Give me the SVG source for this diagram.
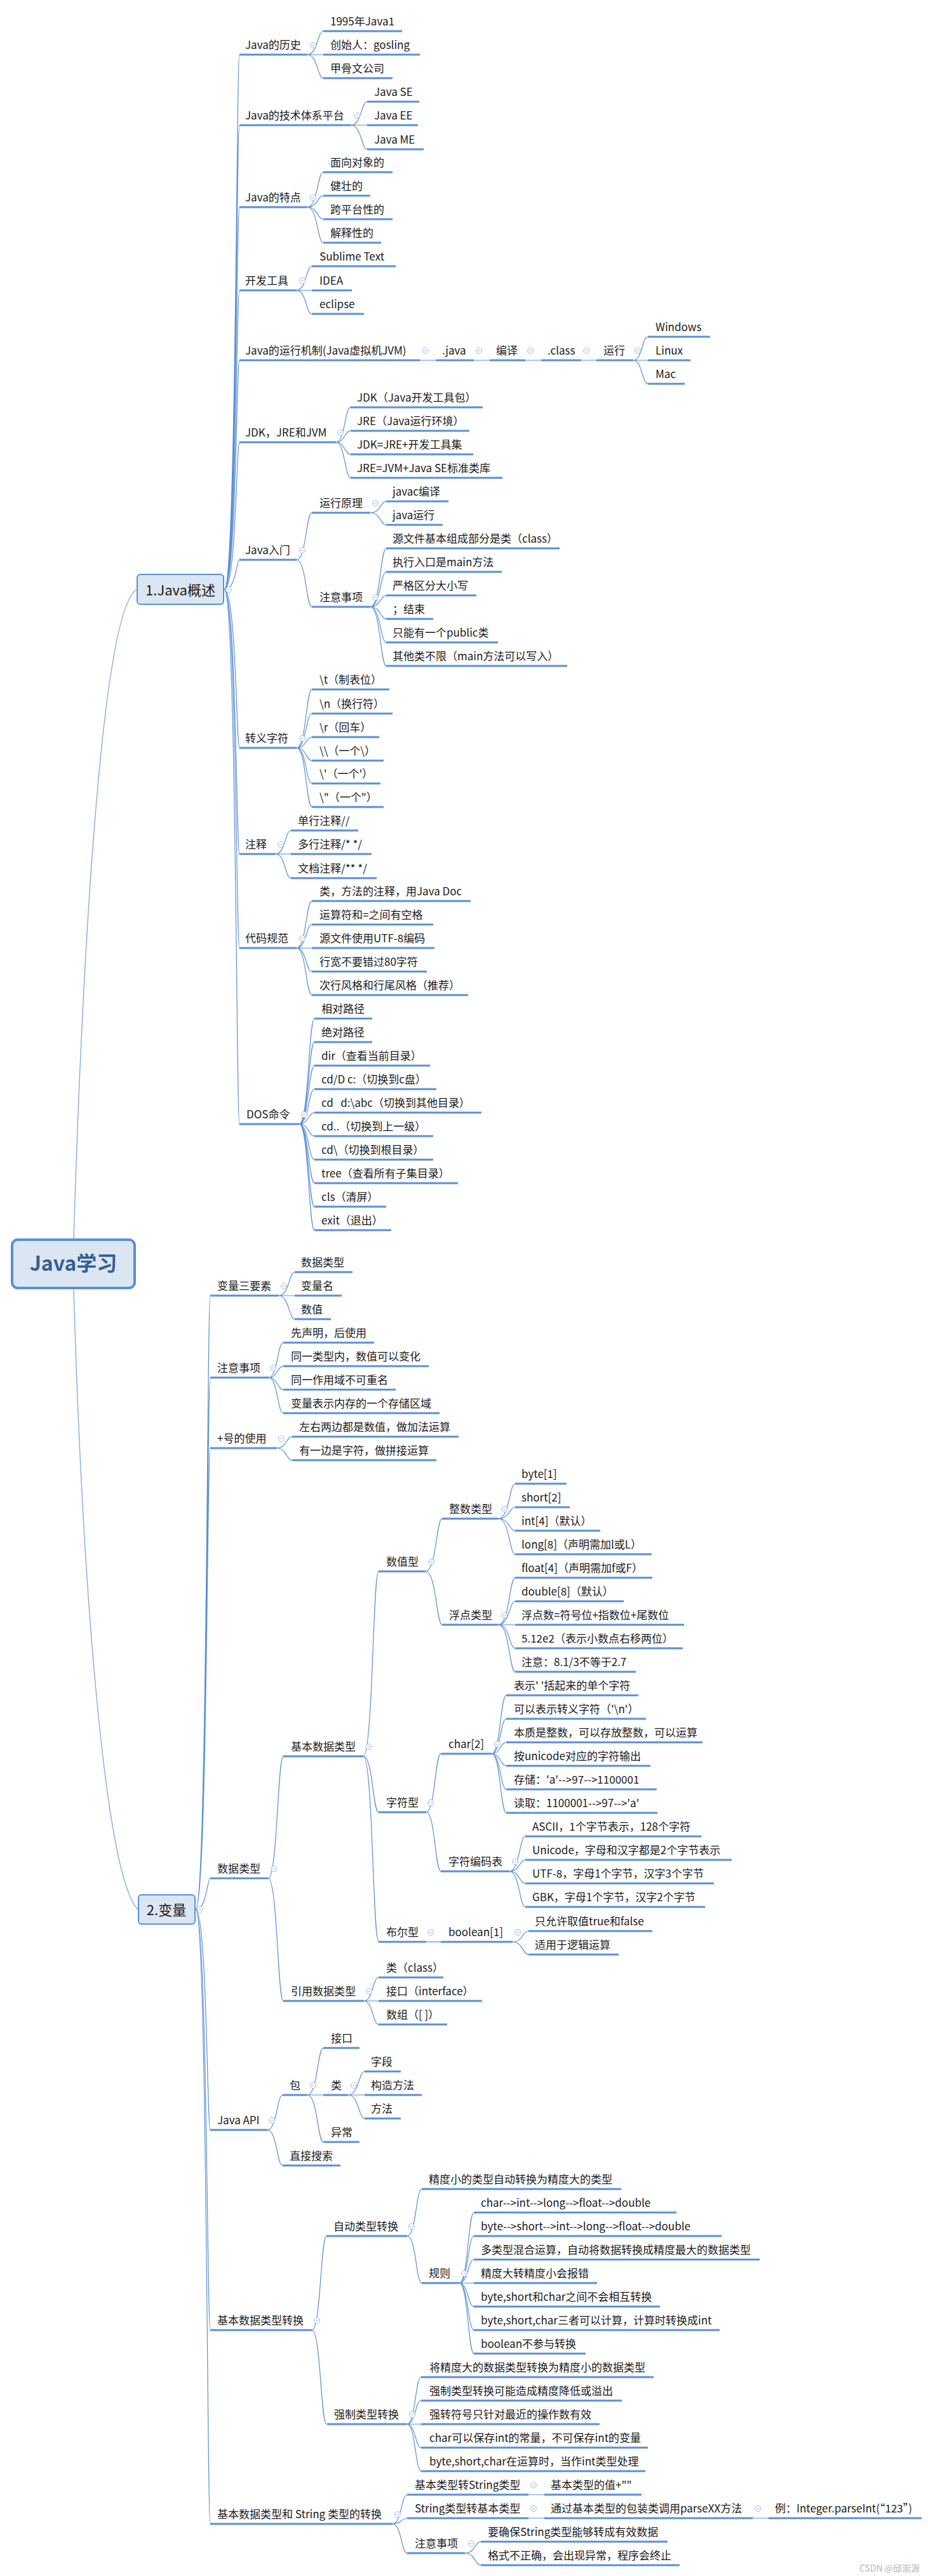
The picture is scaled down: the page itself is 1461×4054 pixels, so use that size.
<svg xmlns="http://www.w3.org/2000/svg" xmlns:xlink="http://www.w3.org/1999/xlink" width="1461" height="4054" viewBox="0 0 1461 4054">
<style>
text{font-family:"Noto Sans CJK SC","Noto Sans",sans-serif;font-size:17px;fill:#1a1a1a}
.u{stroke:#5b8fd6;stroke-width:3;fill:none}
.c{stroke:#5b8fd6;stroke-width:1.2;fill:none}
.r{stroke:#7ea6e0;stroke-width:1.3;fill:none}
.box{fill:#dce6f2;stroke:#5b8fd6}
.b1{font-size:22px}
.wm{font-size:14px;fill:#b4b4b4}
</style>
<defs>
<g id="col"><circle r="4.5" fill="#fff" stroke="#9bb9e6" stroke-width="1"/><path d="M-2.5 0H2.5" stroke="#9bb9e6" stroke-width="1"/></g>
</defs>
<rect width="1461" height="4054" fill="#fff"/>
<g id="connectors">
<path class="r" d="M116 1949C130 1500 160 960 215 928M116 2029C130 2500 165 2950 217 3005"/>
<path class="c" d="M353 928C372 928 372 86 377 86M353 928C372 928 372 197 377 197M353 928C372 928 372 326 377 326M353 928C372 928 372 457 377 457M353 928C372 928 372 567 377 567M353 928C372 928 372 696 377 696M353 928C372 928 372 881 377 881M353 928C372 928 372 1177 377 1177M353 928C372 928 372 1344 377 1344M353 928C372 928 372 1492 377 1492M353 928C372 928 372 1769 377 1769"/>
<path class="c" d="M484 86C500 86 500 49 509 49M484 86H509M484 86C500 86 500 123 509 123"/>
<path class="c" d="M553 197C569 197 569 160 578 160M553 197H578M553 197C569 197 569 235 578 235"/>
<path class="c" d="M484 326C500 326 500 271 509 271M484 326C500 326 500 308 509 308M484 326C500 326 500 345 509 345M484 326C500 326 500 382 509 382"/>
<path class="c" d="M467 457C482 457 482 419 491 419M467 457H491M467 457C482 457 482 494 491 494"/>
<path class="c" d="M661 567H686M746 567H771M827 567H852M915 567H939"/>
<path class="c" d="M997 567C1011 567 1011 530 1020 530M997 567H1020M997 567C1011 567 1011 604 1020 604"/>
<path class="c" d="M529 696C543 696 543 641 552 641M529 696C543 696 543 678 552 678M529 696C543 696 543 715 552 715M529 696C543 696 543 752 552 752"/>
<path class="c" d="M467 881C482 881 482 807 491 807M467 881C482 881 482 955 491 955"/>
<path class="c" d="M583 807C599 807 599 789 608 789M583 807C599 807 599 826 608 826"/>
<path class="c" d="M583 955C599 955 599 863 608 863M583 955C599 955 599 900 608 900M583 955C599 955 599 937 608 937M583 955C599 955 599 974 608 974M583 955C599 955 599 1011 608 1011M583 955C599 955 599 1048 608 1048"/>
<path class="c" d="M467 1177C482 1177 482 1085 491 1085M467 1177C482 1177 482 1123 491 1123M467 1177C482 1177 482 1160 491 1160M467 1177C482 1177 482 1197 491 1197M467 1177C482 1177 482 1233 491 1233M467 1177C482 1177 482 1270 491 1270"/>
<path class="c" d="M434 1344C449 1344 449 1307 458 1307M434 1344H458M434 1344C449 1344 449 1382 458 1382"/>
<path class="c" d="M467 1492C482 1492 482 1418 491 1418M467 1492C482 1492 482 1455 491 1455M467 1492H491M467 1492C482 1492 482 1529 491 1529M467 1492C482 1492 482 1566 491 1566"/>
<path class="c" d="M471 1769C486 1769 486 1603 495 1603M471 1769C486 1769 486 1640 495 1640M471 1769C486 1769 486 1677 495 1677M471 1769C486 1769 486 1714 495 1714M471 1769C486 1769 486 1751 495 1751M471 1769C486 1769 486 1788 495 1788M471 1769C486 1769 486 1825 495 1825M471 1769C486 1769 486 1862 495 1862M471 1769C486 1769 486 1899 495 1899M471 1769C486 1769 486 1936 495 1936"/>
<path class="c" d="M308 3005C326 3005 326 2039 331 2039M308 3005C326 3005 326 2168 331 2168M308 3005C326 3005 326 2279 331 2279M308 3005C326 3005 326 2956 331 2956M308 3005C326 3005 326 3352 331 3352M308 3005C326 3005 326 3667 331 3667M308 3005C326 3005 326 3972 331 3972"/>
<path class="c" d="M439 2039C455 2039 455 2002 464 2002M439 2039H464M439 2039C455 2039 455 2076 464 2076"/>
<path class="c" d="M423 2168C437 2168 437 2113 446 2113M423 2168C437 2168 437 2150 446 2150M423 2168C437 2168 437 2187 446 2187M423 2168C437 2168 437 2224 446 2224"/>
<path class="c" d="M436 2279C451 2279 451 2261 460 2261M436 2279C451 2279 451 2298 460 2298"/>
<path class="c" d="M422 2956C437 2956 437 2764 446 2764M422 2956C437 2956 437 3149 446 3149"/>
<path class="c" d="M572 2764C587 2764 587 2473 596 2473M572 2764C587 2764 587 2852 596 2852M572 2764C587 2764 587 3056 596 3056"/>
<path class="c" d="M670 2473C687 2473 687 2390 696 2390M670 2473C687 2473 687 2557 696 2557"/>
<path class="c" d="M785 2390C802 2390 802 2335 811 2335M785 2390C802 2390 802 2372 811 2372M785 2390C802 2390 802 2409 811 2409M785 2390C802 2390 802 2446 811 2446"/>
<path class="c" d="M785 2557C802 2557 802 2483 811 2483M785 2557C802 2557 802 2520 811 2520M785 2557H811M785 2557C802 2557 802 2594 811 2594M785 2557C802 2557 802 2631 811 2631"/>
<path class="c" d="M671 2852C685 2852 685 2760 694 2760M671 2852C685 2852 685 2945 694 2945"/>
<path class="c" d="M774 2760C788 2760 788 2668 797 2668M774 2760C788 2760 788 2705 797 2705M774 2760C788 2760 788 2742 797 2742M774 2760C788 2760 788 2779 797 2779M774 2760C788 2760 788 2816 797 2816M774 2760C788 2760 788 2853 797 2853"/>
<path class="c" d="M802 2945C818 2945 818 2890 827 2890M802 2945C818 2945 818 2927 827 2927M802 2945C818 2945 818 2964 827 2964M802 2945C818 2945 818 3001 827 3001"/>
<path class="c" d="M671 3056H694"/>
<path class="c" d="M807 3056C823 3056 823 3039 832 3039M807 3056C823 3056 823 3076 832 3076"/>
<path class="c" d="M573 3149C587 3149 587 3112 596 3112M573 3149H596M573 3149C587 3149 587 3186 596 3186"/>
<path class="c" d="M421 3352C436 3352 436 3297 445 3297M421 3352C436 3352 436 3408 445 3408"/>
<path class="c" d="M484 3297C500 3297 500 3223 509 3223M484 3297H509M484 3297C500 3297 500 3371 509 3371"/>
<path class="c" d="M548 3297C565 3297 565 3260 574 3260M548 3297H574M548 3297C565 3297 565 3334 574 3334"/>
<path class="c" d="M491 3667C505 3667 505 3519 514 3519M491 3667C505 3667 505 3815 514 3815"/>
<path class="c" d="M641 3519C655 3519 655 3445 664 3445M641 3519C655 3519 655 3593 664 3593"/>
<path class="c" d="M723 3593C737 3593 737 3482 746 3482M723 3593C737 3593 737 3519 746 3519M723 3593C737 3593 737 3556 746 3556M723 3593H746M723 3593C737 3593 737 3630 746 3630M723 3593C737 3593 737 3667 746 3667M723 3593C737 3593 737 3704 746 3704"/>
<path class="c" d="M641 3815C654 3815 654 3741 663 3741M641 3815C654 3815 654 3778 663 3778M641 3815H663M641 3815C654 3815 654 3852 663 3852M641 3815C654 3815 654 3889 663 3889"/>
<path class="c" d="M618 3972C632 3972 632 3926 641 3926M618 3972C632 3972 632 3963 641 3963M618 3972C632 3972 632 4018 641 4018"/>
<path class="c" d="M832 3926H857M832 3963H857M1185 3963H1210"/>
<path class="c" d="M732 4018C748 4018 748 4000 757 4000M732 4018C748 4018 748 4037 757 4037"/>
</g>
<g id="root"><rect class="box" x="19" y="1951" width="193" height="76" rx="9" stroke-width="4"/><text x="115.5" y="2000" text-anchor="middle" font-size="32" font-weight="bold" style="font-size:32px;fill:#345e96">Java学习</text></g>
<g id="b1"><rect class="box" x="216" y="904" width="136" height="47" rx="5" stroke-width="2"/><text class="b1" x="284" y="937" text-anchor="middle">1.Java概述</text><use xlink:href="#col" x="360" y="928"/></g>
<g id="b2"><rect class="box" x="218" y="2982" width="89" height="46" rx="5" stroke-width="2"/><text class="b1" x="262" y="3014" text-anchor="middle">2.变量</text><use xlink:href="#col" x="315" y="3005"/></g>

<g id="a1"><text x="386" y="77">Java的历史</text><path class="u" d="M377 86H484"/><use xlink:href="#col" x="493" y="71"/></g>
<g id="a1a"><text x="520" y="40">1995年Java1</text><path class="u" d="M509 49H633"/></g>
<g id="a1b"><text x="520" y="77">创始人：gosling</text><path class="u" d="M509 86H661"/></g>
<g id="a1c"><text x="520" y="114">甲骨文公司</text><path class="u" d="M509 123H618"/></g>
<g id="a2"><text x="386" y="188">Java的技术体系平台</text><path class="u" d="M377 197H553"/><use xlink:href="#col" x="562" y="182"/></g>
<g id="a2a"><text x="589" y="151">Java SE</text><path class="u" d="M578 160H660"/></g>
<g id="a2b"><text x="589" y="188">Java EE</text><path class="u" d="M578 197H658"/></g>
<g id="a2c"><text x="589" y="226">Java ME</text><path class="u" d="M578 235H667"/></g>
<g id="a3"><text x="386" y="317">Java的特点</text><path class="u" d="M377 326H484"/><use xlink:href="#col" x="493" y="311"/></g>
<g id="a3a"><text x="520" y="262">面向对象的</text><path class="u" d="M509 271H618"/></g>
<g id="a3b"><text x="520" y="299">健壮的</text><path class="u" d="M509 308H583"/></g>
<g id="a3c"><text x="520" y="336">跨平台性的</text><path class="u" d="M509 345H618"/></g>
<g id="a3d"><text x="520" y="373">解释性的</text><path class="u" d="M509 382H600"/></g>
<g id="a4"><text x="386" y="448">开发工具</text><path class="u" d="M377 457H467"/><use xlink:href="#col" x="476" y="442"/></g>
<g id="a4a"><text x="503" y="410">Sublime Text</text><path class="u" d="M491 419H623"/></g>
<g id="a4b"><text x="503" y="448">IDEA</text><path class="u" d="M491 457H554"/></g>
<g id="a4c"><text x="503" y="485">eclipse</text><path class="u" d="M491 494H573"/></g>
<g id="a5"><text x="386" y="558">Java的运行机制(Java虚拟机JVM)</text><path class="u" d="M377 567H661"/><use xlink:href="#col" x="670" y="552"/></g>
<g id="a5a"><text x="696" y="558">.java</text><path class="u" d="M686 567H746"/><use xlink:href="#col" x="754" y="552"/></g>
<g id="a5b"><text x="781" y="558">编译</text><path class="u" d="M771 567H827"/><use xlink:href="#col" x="835" y="552"/></g>
<g id="a5c"><text x="862" y="558">.class</text><path class="u" d="M852 567H915"/><use xlink:href="#col" x="923" y="552"/></g>
<g id="a5d"><text x="950" y="558">运行</text><path class="u" d="M939 567H997"/><use xlink:href="#col" x="1004" y="552"/></g>
<g id="a5e"><text x="1032" y="521">Windows</text><path class="u" d="M1020 530H1118"/></g>
<g id="a5f"><text x="1032" y="558">Linux</text><path class="u" d="M1020 567H1087"/></g>
<g id="a5g"><text x="1032" y="595">Mac</text><path class="u" d="M1020 604H1078"/></g>
<g id="a6"><text x="386" y="687">JDK，JRE和JVM</text><path class="u" d="M377 696H529"/><use xlink:href="#col" x="536" y="681"/></g>
<g id="a6a"><text x="562" y="632">JDK（Java开发工具包）</text><path class="u" d="M552 641H760"/></g>
<g id="a6b"><text x="562" y="669">JRE（Java运行环境）</text><path class="u" d="M552 678H739"/></g>
<g id="a6c"><text x="562" y="706">JDK=JRE+开发工具集</text><path class="u" d="M552 715H745"/></g>
<g id="a6d"><text x="562" y="743">JRE=JVM+Java SE标准类库</text><path class="u" d="M552 752H791"/></g>
<g id="a7"><text x="386" y="872">Java入门</text><path class="u" d="M377 881H467"/><use xlink:href="#col" x="476" y="866"/></g>
<g id="a7a"><text x="503" y="798">运行原理</text><path class="u" d="M491 807H583"/><use xlink:href="#col" x="591" y="792"/></g>
<g id="a7a1"><text x="618" y="780">javac编译</text><path class="u" d="M608 789H706"/></g>
<g id="a7a2"><text x="618" y="817">java运行</text><path class="u" d="M608 826H697"/></g>
<g id="a7b"><text x="503" y="946">注意事项</text><path class="u" d="M491 955H583"/><use xlink:href="#col" x="591" y="940"/></g>
<g id="a7b1"><text x="618" y="854">源文件基本组成部分是类（class）</text><path class="u" d="M608 863H881"/></g>
<g id="a7b2"><text x="618" y="891">执行入口是main方法</text><path class="u" d="M608 900H790"/></g>
<g id="a7b3"><text x="618" y="928">严格区分大小写</text><path class="u" d="M608 937H750"/></g>
<g id="a7b4"><text x="618" y="965">；结束</text><path class="u" d="M608 974H682"/></g>
<g id="a7b5"><text x="618" y="1002">只能有一个public类</text><path class="u" d="M608 1011H784"/></g>
<g id="a7b6"><text x="618" y="1039">其他类不限（main方法可以写入）</text><path class="u" d="M608 1048H893"/></g>
<g id="a8"><text x="386" y="1168">转义字符</text><path class="u" d="M377 1177H467"/><use xlink:href="#col" x="476" y="1162"/></g>
<g id="a8a"><text x="503" y="1076">\t（制表位）</text><path class="u" d="M491 1085H613"/></g>
<g id="a8b"><text x="503" y="1114">\n（换行符）</text><path class="u" d="M491 1123H618"/></g>
<g id="a8c"><text x="503" y="1151">\r（回车）</text><path class="u" d="M491 1160H597"/></g>
<g id="a8d"><text x="503" y="1188">\\（一个\）</text><path class="u" d="M491 1197H604"/></g>
<g id="a8e"><text x="503" y="1224">\'（一个'）</text><path class="u" d="M491 1233H599"/></g>
<g id="a8f"><text x="503" y="1261">\"（一个"）</text><path class="u" d="M491 1270H604"/></g>
<g id="a9"><text x="386" y="1335">注释</text><path class="u" d="M377 1344H434"/><use xlink:href="#col" x="442" y="1329"/></g>
<g id="a9a"><text x="469" y="1298">单行注释//</text><path class="u" d="M458 1307H564"/></g>
<g id="a9b"><text x="469" y="1335">多行注释/* */</text><path class="u" d="M458 1344H585"/></g>
<g id="a9c"><text x="469" y="1373">文档注释/** */</text><path class="u" d="M458 1382H593"/></g>
<g id="a10"><text x="386" y="1483">代码规范</text><path class="u" d="M377 1492H467"/><use xlink:href="#col" x="476" y="1477"/></g>
<g id="a10a"><text x="503" y="1409">类，方法的注释，用Java Doc</text><path class="u" d="M491 1418H741"/></g>
<g id="a10b"><text x="503" y="1446">运算符和=之间有空格</text><path class="u" d="M491 1455H682"/></g>
<g id="a10c"><text x="503" y="1483">源文件使用UTF-8编码</text><path class="u" d="M491 1492H684"/></g>
<g id="a10d"><text x="503" y="1520">行宽不要错过80字符</text><path class="u" d="M491 1529H672"/></g>
<g id="a10e"><text x="503" y="1557">次行风格和行尾风格（推荐）</text><path class="u" d="M491 1566H737"/></g>
<g id="a11"><text x="388" y="1760">DOS命令</text><path class="u" d="M377 1769H471"/><use xlink:href="#col" x="479" y="1754"/></g>
<g id="a11a"><text x="506" y="1594">相对路径</text><path class="u" d="M495 1603H586"/></g>
<g id="a11b"><text x="506" y="1631">绝对路径</text><path class="u" d="M495 1640H586"/></g>
<g id="a11c"><text x="506" y="1668">dir（查看当前目录）</text><path class="u" d="M495 1677H677"/></g>
<g id="a11d"><text x="506" y="1705">cd/D c:（切换到c盘）</text><path class="u" d="M495 1714H687"/></g>
<g id="a11e"><text x="506" y="1742">cd&#160;&#160;&#160;d:\abc（切换到其他目录）</text><path class="u" d="M495 1751H758"/></g>
<g id="a11f"><text x="506" y="1779">cd..（切换到上一级）</text><path class="u" d="M495 1788H682"/></g>
<g id="a11g"><text x="506" y="1816">cd\（切换到根目录）</text><path class="u" d="M495 1825H682"/></g>
<g id="a11h"><text x="506" y="1853">tree（查看所有子集目录）</text><path class="u" d="M495 1862H721"/></g>
<g id="a11i"><text x="506" y="1890">cls（清屏）</text><path class="u" d="M495 1899H608"/></g>
<g id="a11j"><text x="506" y="1927">exit（退出）</text><path class="u" d="M495 1936H616"/></g>

<g id="v1"><text x="342" y="2030">变量三要素</text><path class="u" d="M331 2039H439"/><use xlink:href="#col" x="447" y="2024"/></g>
<g id="v1a"><text x="474" y="1993">数据类型</text><path class="u" d="M464 2002H555"/></g>
<g id="v1b"><text x="474" y="2030">变量名</text><path class="u" d="M464 2039H538"/></g>
<g id="v1c"><text x="474" y="2067">数值</text><path class="u" d="M464 2076H521"/></g>
<g id="v2"><text x="342" y="2159">注意事项</text><path class="u" d="M331 2168H423"/><use xlink:href="#col" x="430" y="2153"/></g>
<g id="v2a"><text x="458" y="2104">先声明，后使用</text><path class="u" d="M446 2113H589"/></g>
<g id="v2b"><text x="458" y="2141">同一类型内，数值可以变化</text><path class="u" d="M446 2150H675"/></g>
<g id="v2c"><text x="458" y="2178">同一作用域不可重名</text><path class="u" d="M446 2187H623"/></g>
<g id="v2d"><text x="458" y="2215">变量表示内存的一个存储区域</text><path class="u" d="M446 2224H692"/></g>
<g id="v3"><text x="342" y="2270">+号的使用</text><path class="u" d="M331 2279H436"/><use xlink:href="#col" x="443" y="2264"/></g>
<g id="v3a"><text x="471" y="2252">左右两边都是数值，做加法运算</text><path class="u" d="M460 2261H722"/></g>
<g id="v3b"><text x="471" y="2289">有一边是字符，做拼接运算</text><path class="u" d="M460 2298H687"/></g>
<g id="v4"><text x="342" y="2947">数据类型</text><path class="u" d="M331 2956H422"/><use xlink:href="#col" x="431" y="2941"/></g>
<g id="v4a"><text x="458" y="2755">基本数据类型</text><path class="u" d="M446 2764H572"/><use xlink:href="#col" x="580" y="2749"/></g>
<g id="v4a1"><text x="608" y="2464">数值型</text><path class="u" d="M596 2473H670"/><use xlink:href="#col" x="679" y="2458"/></g>
<g id="v4a1a"><text x="707" y="2381">整数类型</text><path class="u" d="M696 2390H785"/><use xlink:href="#col" x="794" y="2375"/></g>
<g id="i1"><text x="821" y="2326">byte[1]</text><path class="u" d="M811 2335H892"/></g>
<g id="i2"><text x="821" y="2363">short[2]</text><path class="u" d="M811 2372H897"/></g>
<g id="i3"><text x="821" y="2400">int[4]（默认）</text><path class="u" d="M811 2409H945"/></g>
<g id="i4"><text x="821" y="2437">long[8]（声明需加l或L）</text><path class="u" d="M811 2446H1026"/></g>
<g id="v4a1b"><text x="707" y="2548">浮点类型</text><path class="u" d="M696 2557H785"/><use xlink:href="#col" x="794" y="2542"/></g>
<g id="f1"><text x="821" y="2474">float[4]（声明需加f或F）</text><path class="u" d="M811 2483H1027"/></g>
<g id="f2"><text x="821" y="2511">double[8]（默认）</text><path class="u" d="M811 2520H982"/></g>
<g id="f3"><text x="821" y="2548">浮点数=符号位+指数位+尾数位</text><path class="u" d="M811 2557H1077"/></g>
<g id="f4"><text x="821" y="2585">5.12e2（表示小数点右移两位）</text><path class="u" d="M811 2594H1075"/></g>
<g id="f5"><text x="821" y="2622">注意：8.1/3不等于2.7</text><path class="u" d="M811 2631H1001"/></g>
<g id="v4a2"><text x="608" y="2843">字符型</text><path class="u" d="M596 2852H671"/><use xlink:href="#col" x="678" y="2837"/></g>
<g id="v4a2a"><text x="706" y="2751">char[2]</text><path class="u" d="M694 2760H774"/><use xlink:href="#col" x="783" y="2745"/></g>
<g id="ch1"><text x="809" y="2659">表示' '括起来的单个字符</text><path class="u" d="M797 2668H1005"/></g>
<g id="ch2"><text x="809" y="2696">可以表示转义字符（'\n'）</text><path class="u" d="M797 2705H1017"/></g>
<g id="ch3"><text x="809" y="2733">本质是整数，可以存放整数，可以运算</text><path class="u" d="M797 2742H1106"/></g>
<g id="ch4"><text x="809" y="2770">按unicode对应的字符输出</text><path class="u" d="M797 2779H1024"/></g>
<g id="ch5"><text x="809" y="2807">存储：'a'--&gt;97--&gt;1100001</text><path class="u" d="M797 2816H1034"/></g>
<g id="ch6"><text x="809" y="2844">读取：1100001--&gt;97--&gt;'a'</text><path class="u" d="M797 2853H1035"/></g>
<g id="v4a2b"><text x="706" y="2936">字符编码表</text><path class="u" d="M694 2945H802"/><use xlink:href="#col" x="811" y="2930"/></g>
<g id="e1"><text x="838" y="2881">ASCII，1个字节表示，128个字符</text><path class="u" d="M827 2890H1104"/></g>
<g id="e2"><text x="838" y="2918">Unicode，字母和汉字都是2个字节表示</text><path class="u" d="M827 2927H1152"/></g>
<g id="e3"><text x="838" y="2955">UTF-8，字母1个字节，汉字3个字节</text><path class="u" d="M827 2964H1124"/></g>
<g id="e4"><text x="838" y="2992">GBK，字母1个字节，汉字2个字节</text><path class="u" d="M827 3001H1110"/></g>
<g id="v4a3"><text x="608" y="3047">布尔型</text><path class="u" d="M596 3056H671"/><use xlink:href="#col" x="678" y="3041"/></g>
<g id="v4a3a"><text x="706" y="3047">boolean[1]</text><path class="u" d="M694 3056H807"/><use xlink:href="#col" x="815" y="3041"/></g>
<g id="bo1"><text x="842" y="3030">只允许取值true和false</text><path class="u" d="M832 3039H1027"/></g>
<g id="bo2"><text x="842" y="3067">适用于逻辑运算</text><path class="u" d="M832 3076H974"/></g>
<g id="v4b"><text x="458" y="3140">引用数据类型</text><path class="u" d="M446 3149H573"/><use xlink:href="#col" x="581" y="3134"/></g>
<g id="rf1"><text x="608" y="3103">类（class）</text><path class="u" d="M596 3112H698"/></g>
<g id="rf2"><text x="608" y="3140">接口（interface）</text><path class="u" d="M596 3149H759"/></g>
<g id="rf3"><text x="608" y="3177">数组（[ ]）</text><path class="u" d="M596 3186H704"/></g>
<g id="v5"><text x="342" y="3343">Java API</text><path class="u" d="M331 3352H421"/><use xlink:href="#col" x="428" y="3337"/></g>
<g id="v5a"><text x="456" y="3288">包</text><path class="u" d="M445 3297H484"/><use xlink:href="#col" x="493" y="3282"/></g>
<g id="v5a1"><text x="521" y="3214">接口</text><path class="u" d="M509 3223H566"/></g>
<g id="v5a2"><text x="521" y="3288">类</text><path class="u" d="M509 3297H548"/><use xlink:href="#col" x="557" y="3282"/></g>
<g id="cl1"><text x="584" y="3251">字段</text><path class="u" d="M574 3260H631"/></g>
<g id="cl2"><text x="584" y="3288">构造方法</text><path class="u" d="M574 3297H664"/></g>
<g id="cl3"><text x="584" y="3325">方法</text><path class="u" d="M574 3334H631"/></g>
<g id="v5a3"><text x="521" y="3362">异常</text><path class="u" d="M509 3371H566"/></g>
<g id="v5b"><text x="456" y="3399">直接搜索</text><path class="u" d="M445 3408H536"/></g>
<g id="v6"><text x="342" y="3658">基本数据类型转换</text><path class="u" d="M331 3667H491"/><use xlink:href="#col" x="499" y="3652"/></g>
<g id="v6a"><text x="525" y="3510">自动类型转换</text><path class="u" d="M514 3519H641"/><use xlink:href="#col" x="648" y="3504"/></g>
<g id="au1"><text x="675" y="3436">精度小的类型自动转换为精度大的类型</text><path class="u" d="M664 3445H978"/></g>
<g id="au2"><text x="675" y="3584">规则</text><path class="u" d="M664 3593H723"/><use xlink:href="#col" x="731" y="3578"/></g>
<g id="ru1"><text x="757" y="3473">char--&gt;int--&gt;long--&gt;float--&gt;double</text><path class="u" d="M746 3482H1065"/></g>
<g id="ru2"><text x="757" y="3510">byte--&gt;short--&gt;int--&gt;long--&gt;float--&gt;double</text><path class="u" d="M746 3519H1136"/></g>
<g id="ru3"><text x="757" y="3547">多类型混合运算，自动将数据转换成精度最大的数据类型</text><path class="u" d="M746 3556H1196"/></g>
<g id="ru4"><text x="757" y="3584">精度大转精度小会报错</text><path class="u" d="M746 3593H940"/></g>
<g id="ru5"><text x="757" y="3621">byte,short和char之间不会相互转换</text><path class="u" d="M746 3630H1039"/></g>
<g id="ru6"><text x="757" y="3658">byte,short,char三者可以计算，计算时转换成int</text><path class="u" d="M746 3667H1133"/></g>
<g id="ru7"><text x="757" y="3695">boolean不参与转换</text><path class="u" d="M746 3704H922"/></g>
<g id="v6b"><text x="526" y="3806">强制类型转换</text><path class="u" d="M515 3815H641"/><use xlink:href="#col" x="649" y="3800"/></g>
<g id="fo1"><text x="676" y="3732">将精度大的数据类型转换为精度小的数据类型</text><path class="u" d="M663 3741H1029"/></g>
<g id="fo2"><text x="676" y="3769">强制类型转换可能造成精度降低或溢出</text><path class="u" d="M663 3778H979"/></g>
<g id="fo3"><text x="676" y="3806">强转符号只针对最近的操作数有效</text><path class="u" d="M663 3815H944"/></g>
<g id="fo4"><text x="676" y="3843">char可以保存int的常量，不可保存int的变量</text><path class="u" d="M663 3852H1020"/></g>
<g id="fo5"><text x="676" y="3880">byte,short,char在运算时，当作int类型处理</text><path class="u" d="M663 3889H1016"/></g>
<g id="v7"><text x="342" y="3963">基本数据类型和 String 类型的转换</text><path class="u" d="M331 3972H618"/><use xlink:href="#col" x="626" y="3957"/></g>
<g id="v7a"><text x="653" y="3917">基本类型转String类型</text><path class="u" d="M641 3926H832"/><use xlink:href="#col" x="840" y="3911"/></g>
<g id="v7a1"><text x="867" y="3917">基本类型的值+""</text><path class="u" d="M857 3926H1010"/></g>
<g id="v7b"><text x="653" y="3954">String类型转基本类型</text><path class="u" d="M641 3963H832"/><use xlink:href="#col" x="840" y="3948"/></g>
<g id="v7b1"><text x="867" y="3954">通过基本类型的包装类调用parseXX方法</text><path class="u" d="M857 3963H1185"/><use xlink:href="#col" x="1193" y="3948"/></g>
<g id="v7b2"><text x="1220" y="3954">例：Integer.parseInt(“123”)</text><path class="u" d="M1210 3963H1451"/></g>
<g id="v7c"><text x="653" y="4009">注意事项</text><path class="u" d="M641 4018H732"/><use xlink:href="#col" x="742" y="4003"/></g>
<g id="v7c1"><text x="768" y="3991">要确保String类型能够转成有效数据</text><path class="u" d="M757 4000H1051"/></g>
<g id="v7c2"><text x="768" y="4028">格式不正确，会出现异常，程序会终止</text><path class="u" d="M757 4037H1070"/></g>
<text class="wm" x="1353" y="4047">CSDN @邱崇源</text>
</svg>
